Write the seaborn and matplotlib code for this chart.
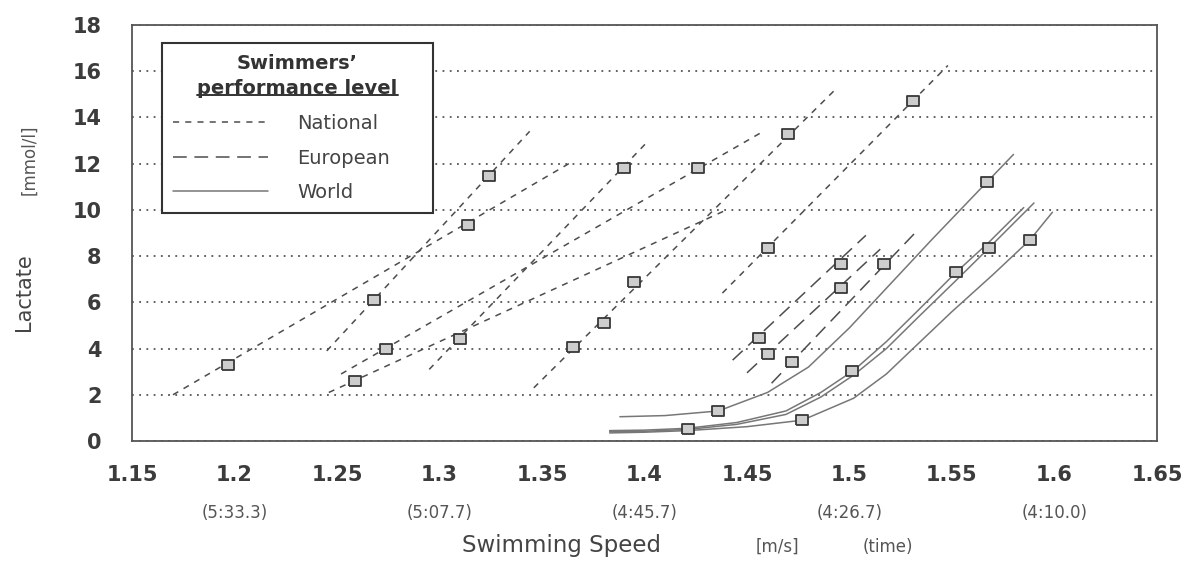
import numpy as np
import pandas as pd
import matplotlib
matplotlib.use('Agg')
import matplotlib.pyplot as plt
import matplotlib.transforms as mtransforms
from matplotlib.lines import Line2D
from matplotlib.ticker import MultipleLocator
import seaborn as sns

# national swimmers: start and end of each fitted line (speed m/s, lactate mmol/l)
nat_x0 = [1.170, 1.245, 1.246, 1.295, 1.252, 1.346, 1.438]
nat_y0 = [2.0, 3.9, 2.1, 3.1, 2.9, 2.3, 6.4]
nat_x1 = [1.365, 1.344, 1.440, 1.402, 1.458, 1.493, 1.548]
nat_y1 = [12.1, 13.4, 10.0, 13.0, 13.4, 15.2, 16.25]

# european swimmers
eur_x0 = [1.443, 1.450, 1.462]
eur_y0 = [3.5, 2.95, 2.5]
eur_x1 = [1.508, 1.515, 1.533]
eur_y1 = [8.9, 8.3, 9.1]

# world class swimmers: curves
world_curve_x = [
    [1.388, 1.410, 1.436, 1.460, 1.480, 1.500, 1.520, 1.540, 1.567, 1.580],
    [1.383, 1.400, 1.421, 1.445, 1.469, 1.486, 1.502, 1.518, 1.534, 1.552, 1.568, 1.585],
    [1.383, 1.400, 1.421, 1.445, 1.469, 1.486, 1.502, 1.518, 1.534, 1.552, 1.568, 1.590],
    [1.383, 1.400, 1.421, 1.450, 1.477, 1.502, 1.518, 1.531, 1.550, 1.570, 1.588, 1.599],
]
world_curve_y = [
    [1.05, 1.1, 1.3, 2.1, 3.2, 4.9, 6.8, 8.7, 11.2, 12.4],
    [0.45, 0.47, 0.55, 0.8, 1.3, 2.1, 3.05, 4.3, 5.7, 7.3, 8.6, 10.1],
    [0.4, 0.42, 0.5, 0.72, 1.15, 1.9, 2.85, 4.0, 5.4, 6.95, 8.35, 10.3],
    [0.35, 0.38, 0.45, 0.62, 0.9, 1.85, 2.9, 4.0, 5.6, 7.2, 8.7, 9.9],
]

# measured points (squares)
nat_pts_x = [1.197, 1.259, 1.274, 1.268, 1.310, 1.314, 1.324, 1.365, 1.380, 1.395, 1.390, 1.426, 1.460, 1.470, 1.531]
nat_pts_y = [3.3, 2.6, 4.0, 6.1, 4.4, 9.35, 11.45, 4.05, 5.1, 6.9, 11.8, 11.8, 8.35, 13.3, 14.7]
eur_pts_x = [1.456, 1.460, 1.472, 1.496, 1.496, 1.517]
eur_pts_y = [4.45, 3.75, 3.4, 7.65, 6.6, 7.65]
world_pts_x = [1.421, 1.436, 1.477, 1.501, 1.552, 1.568, 1.588, 1.567]
world_pts_y = [0.5, 1.3, 0.9, 3.05, 7.3, 8.35, 8.7, 11.2]

levels = ['National', 'European', 'World']
x_ticks = [1.15, 1.2, 1.25, 1.3, 1.35, 1.4, 1.45, 1.5, 1.55, 1.6, 1.65]
x_ticklabels = ['1.15', '1.2', '1.25', '1.3', '1.35', '1.4', '1.45', '1.5', '1.55', '1.6', '1.65']
y_ticks = [0, 2, 4, 6, 8, 10, 12, 14, 16, 18]
time_ticks = [1.2, 1.3, 1.4, 1.5, 1.6]
time_labels = ['(5:33.3)', '(5:07.7)', '(4:45.7)', '(4:26.7)', '(4:10.0)']

sns.set_style('white')
plt.rcParams['font.family'] = ['DejaVu Sans']

# long table of line vertices
rows = []
for i in range(len(nat_x0)):
    rows.append(('N%d' % i, 'National', nat_x0[i], nat_y0[i]))
    rows.append(('N%d' % i, 'National', nat_x1[i], nat_y1[i]))
for i in range(len(eur_x0)):
    rows.append(('E%d' % i, 'European', eur_x0[i], eur_y0[i]))
    rows.append(('E%d' % i, 'European', eur_x1[i], eur_y1[i]))
for i, (xs, ys) in enumerate(zip(world_curve_x, world_curve_y)):
    for xv, yv in zip(xs, ys):
        rows.append(('W%d' % i, 'World', xv, yv))
lines = pd.DataFrame(rows, columns=['swimmer', 'level', 'speed', 'lactate'])

pts = pd.DataFrame({
    'speed': nat_pts_x + eur_pts_x + world_pts_x,
    'lactate': nat_pts_y + eur_pts_y + world_pts_y,
})

dash_map = {'National': (4, 4), 'European': (9, 5), 'World': ''}
colour_map = {'National': '#4d4d4d', 'European': '#4d4d4d', 'World': '#777777'}

fig = plt.figure(figsize=(11.86, 5.65), dpi=100)
ax = fig.add_axes([132 / 1186, 1 - 441 / 565, 1025 / 1186, 416 / 565])

sns.lineplot(data=lines, x='speed', y='lactate', units='swimmer', estimator=None,
             hue='level', style='level', palette=colour_map, dashes=dash_map,
             sort=False, linewidth=1.1, legend=False, ax=ax)

box = [(-1.25, -1), (1.25, -1), (1.25, 1), (-1.25, 1), (-1.25, -1)]
sns.scatterplot(data=pts, x='speed', y='lactate', marker=box, s=78, color='#cdcdcd',
                edgecolor='#383838', linewidth=1.3, zorder=5, legend=False, ax=ax)

ax.set_xlim(1.15, 1.65)
ax.set_ylim(0, 18)
ax.set_xticks(x_ticks)
ax.set_xticklabels(x_ticklabels)
ax.set_yticks(y_ticks)
ax.xaxis.set_minor_locator(MultipleLocator(0.01))
ax.yaxis.set_minor_locator(MultipleLocator(1))
ax.tick_params(axis='both', which='major', direction='in', length=7, width=1,
               color='#555555', labelsize=15, labelcolor='#3c3c3c')
ax.tick_params(axis='x', which='major', pad=17)
ax.tick_params(axis='y', which='major', pad=22)
ax.tick_params(axis='both', which='minor', direction='in', length=4, width=0.8, color='#555555')
for lab in ax.get_xticklabels() + ax.get_yticklabels():
    lab.set_fontweight('bold')
ax.set_xlabel('')
ax.set_ylabel('')

ax.yaxis.grid(True, linestyle=(0, (1, 3)), color='#555555', linewidth=1.3)
ax.set_axisbelow(True)
for sp in ax.spines.values():
    sp.set_color('#555555')
    sp.set_linewidth(1.3)

# running times under the speed ticks
trans = mtransforms.blended_transform_factory(ax.transData, ax.transAxes)
for xv, lab in zip(time_ticks, time_labels):
    ax.text(xv, -0.172, lab, transform=trans, ha='center', va='center',
            fontsize=12, color='#555555')

fig.text(562 / 1186, 1 - 552 / 565, 'Swimming Speed', ha='center', va='baseline',
         fontsize=16.5, color='#444444')
fig.text(777 / 1186, 1 - 552 / 565, '[m/s]', ha='center', va='baseline',
         fontsize=12, color='#555555')
fig.text(888 / 1186, 1 - 552 / 565, '(time)', ha='center', va='baseline',
         fontsize=12, color='#555555')
fig.text(24 / 1186, 1 - 292 / 565, 'Lactate', rotation=90, ha='center', va='center',
         fontsize=15, color='#444444')
fig.text(29 / 1186, 1 - 160 / 565, '[mmol/l]', rotation=90, ha='center', va='center',
         fontsize=12, color='#555555')

handles = [Line2D([], [], color=colour_map[lv], linewidth=1.1,
                  linestyle='-' if dash_map[lv] == '' else (0, dash_map[lv]))
           for lv in levels]
leg_x0 = (162 - 132) / 1025
leg_y0 = (441 - 213) / 416
leg = ax.legend(handles, levels, loc='upper left', mode='expand',
                bbox_to_anchor=(leg_x0, leg_y0, (433 - 162) / 1025, (441 - 43) / 416 - leg_y0),
                borderaxespad=0, frameon=True, fancybox=False, framealpha=1,
                edgecolor='#333333', fontsize=14,
                title='Swimmers\u2019\nperformance level',
                title_fontproperties={'weight': 'bold', 'size': 14},
                handlelength=4.9, handletextpad=1.5, labelspacing=0.8, borderpad=0.55)
leg.get_frame().set_linewidth(1.5)
leg.get_title().set_color('#333333')
leg.get_title().set_multialignment('center')
leg.get_title().set_linespacing(1.45)
for t in leg.get_texts():
    t.set_color('#444444')

# underline the second line of the legend title
fig.canvas.draw()
tb = leg.get_title().get_window_extent(fig.canvas.get_renderer())
inv = fig.transFigure.inverted()
(u0, v0), (u1, _) = inv.transform([(tb.x0, tb.y0 + 3), (tb.x1, tb.y0 + 3)])
fig.add_artist(Line2D([u0, u1], [v0, v0], transform=fig.transFigure,
                      color='#333333', linewidth=1.4))

fig.savefig('out.png', dpi=100, facecolor='white')
